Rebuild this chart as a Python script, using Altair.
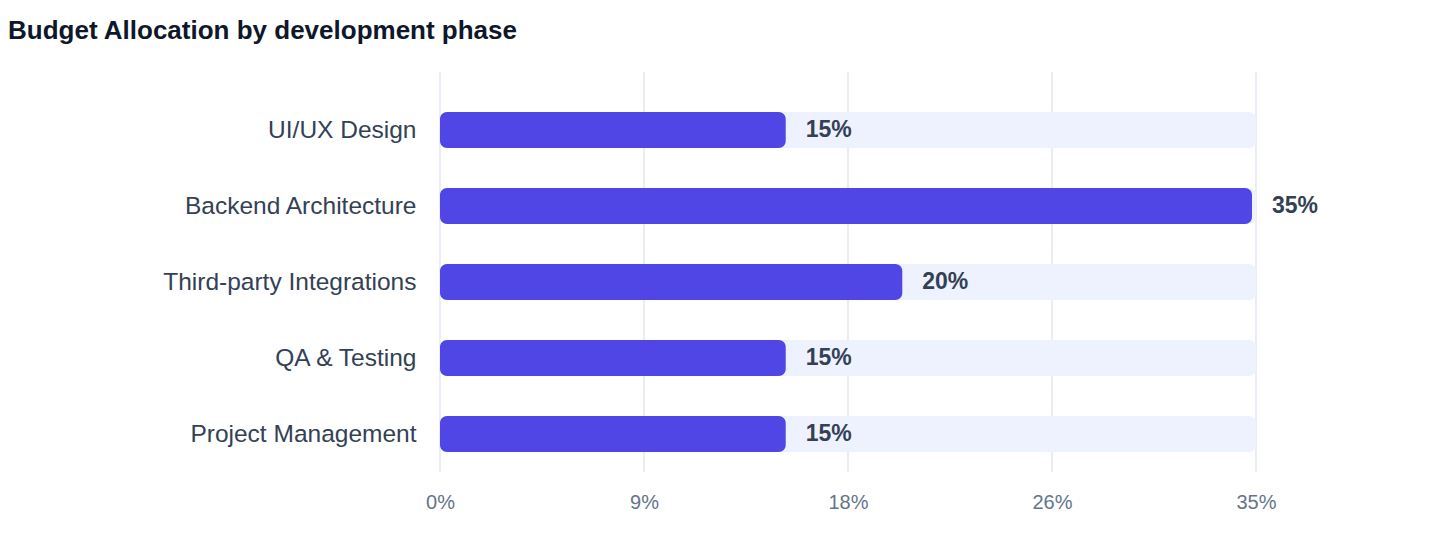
import pandas as pd
import altair as alt

# budget share per development phase (percent)
phases = ["UI/UX Design", "Backend Architecture", "Third-party Integrations",
          "QA & Testing", "Project Management"]
shares = [15, 35, 20, 15, 15]
x_max = 35
x_ticks = [0, 8.75, 17.5, 26.25, 35]

df = pd.DataFrame({
    "phase": phases,
    "share": shares,
    "start": [0] * len(phases),
    "track": [x_max] * len(phases),
    "label": [f"{s}%" for s in shares],
})
ticks_df = pd.DataFrame({"tick": x_ticks})

x_scale = alt.Scale(domain=[0, x_max], nice=False, zero=True)
x_axis = alt.Axis(title=None, values=x_ticks, labelExpr="round(datum.value) + '%'",
                  grid=False, domain=False, ticks=False, labelFontSize=20,
                  labelColor="#64748B", labelPadding=20, labelFlush=False)
y_enc = alt.Y("phase:N", sort=phases,
              scale=alt.Scale(type="point", range=[58, 362], padding=0),
              axis=alt.Axis(title=None, domain=False, ticks=False, grid=False,
                            labelFontSize=24.5, labelColor="#334155",
                            labelPadding=24, labelLimit=400))

# vertical grid lines over the full plot height
grid = alt.Chart(ticks_df).mark_rule(color="#E2E8F0", strokeWidth=1.5).encode(
    x=alt.X("tick:Q", scale=x_scale, axis=x_axis),
    y=alt.value(0),
    y2=alt.value(400),
)

base = alt.Chart(df)

# light background track
track = base.mark_bar(color="#EEF2FF", cornerRadius=7, height=36).encode(
    x=alt.X("start:Q", scale=x_scale, axis=x_axis),
    x2="track:Q",
    y=y_enc,
)

# actual share
bars = base.mark_bar(color="#4F46E5", cornerRadius=7, height=36, x2Offset=-4).encode(
    x=alt.X("start:Q", scale=x_scale, axis=x_axis),
    x2="share:Q",
    y=y_enc,
)

labels = base.mark_text(align="left", baseline="middle", dx=16, fontSize=23,
                        fontWeight="bold", color="#334155").encode(
    x=alt.X("share:Q", scale=x_scale, axis=x_axis),
    y=y_enc,
    text="label:N",
)

chart = (grid + track + bars + labels).properties(
    width=816,
    height=400,
    title=alt.TitleParams("Budget Allocation by development phase", anchor="start",
                          frame="group", dx=-432, offset=6, baseline="alphabetic",
                          fontSize=26, fontWeight="bold", color="#0F172A"),
    autosize=alt.AutoSizeParams(type="none"),
    padding={"left": 432, "top": 64, "right": 150, "bottom": 80},
).configure(font="Liberation Sans").configure_view(stroke=None)

chart.save("out.html", embed_options={"renderer": "svg", "actions": False})
